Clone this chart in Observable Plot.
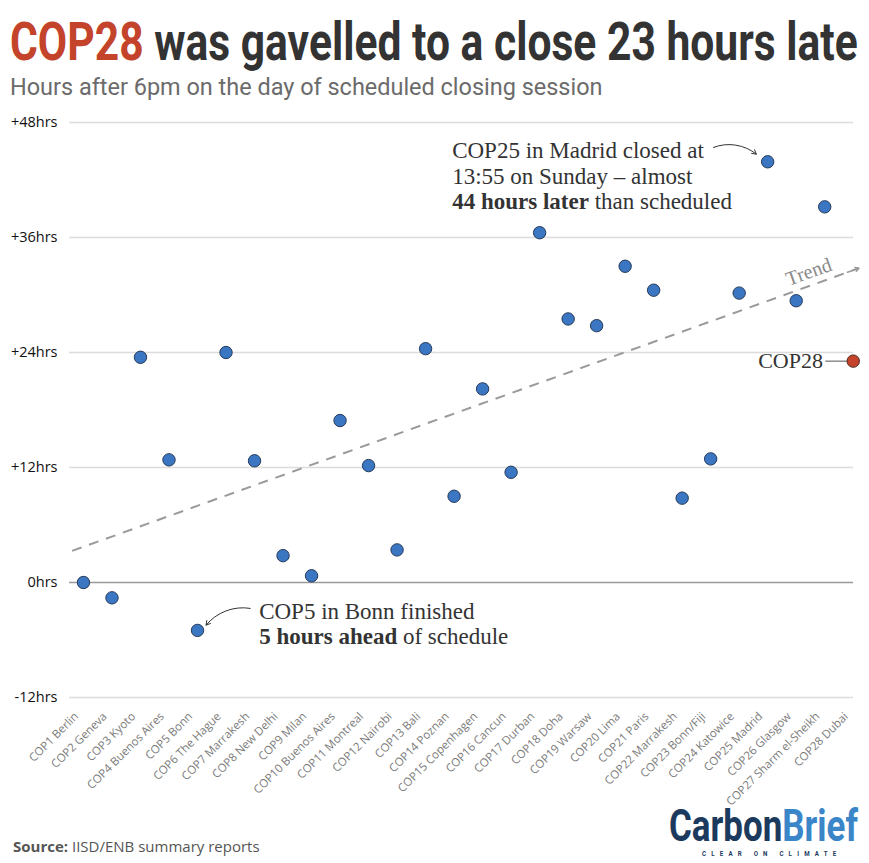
<!DOCTYPE html>
<html><head><meta charset="utf-8">
<script src="https://cdn.jsdelivr.net/npm/d3@7"></script>
<script src="https://cdn.jsdelivr.net/npm/@observablehq/plot@0.6"></script>
<style>
body{margin:0;background:#fff;width:869px;height:863px;position:relative;overflow:hidden;font-family:"Open Sans",sans-serif}
#head{position:absolute;left:0;top:0}
#chart{position:absolute;left:0;top:100px}
#foot{position:absolute;left:0;top:795px}
</style></head><body>
<svg id="head" width="869" height="100">
  <text id="title" x="10" y="60" font-family="Roboto" font-weight="700" font-size="53" fill="#333"><tspan fill="#C4432B">COP28</tspan> was gavelled to a close 23 hours late</text>
  <text id="subtitle" x="10" y="95" font-family="Roboto" font-size="24" fill="#6b6b6b">Hours after 6pm on the day of scheduled closing session</text>
</svg>
<div id="chart"></div>
<svg id="foot" width="869" height="68">
  <text x="13" y="57" font-family="Open Sans" font-size="15" fill="#555"><tspan font-weight="700">Source:</tspan> IISD/ENB summary reports</text>
  <text id="logo" x="669" y="46" font-family="Roboto" font-weight="700" font-size="45"><tspan fill="#1B3A5E">Carbon</tspan><tspan fill="#3A86C8">Brief</tspan><tspan id="tag" font-size="7" dy="15" fill="#1B3A5E">CLEAR ON CLIMATE</tspan></text>
</svg>
<script>
const cops = ["COP1 Berlin","COP2 Geneva","COP3 Kyoto","COP4 Buenos Aires","COP5 Bonn","COP6 The Hague","COP7 Marrakesh","COP8 New Delhi","COP9 Milan","COP10 Buenos Aires","COP11 Montreal","COP12 Nairobi","COP13 Bali","COP14 Poznan","COP15 Copenhagen","COP16 Cancun","COP17 Durban","COP18 Doha","COP19 Warsaw","COP20 Lima","COP21 Paris","COP22 Marrakesh","COP23 Bonn/Fiji","COP24 Katowice","COP25 Madrid","COP26 Glasgow","COP27 Sharm el-Sheikh","COP28 Dubai"];
const hours = [0, -1.6, 23.5, 12.8, -5.0, 24.0, 12.7, 2.8, 0.7, 16.9, 12.2, 3.4, 24.4, 9.0, 20.2, 11.5, 36.5, 27.5, 26.8, 33.0, 30.5, 8.8, 12.9, 30.2, 43.9, 29.4, 39.2, 23.1];
const yTicks = [-12, 0, 12, 24, 36, 48];
const highlight = "COP28 Dubai";
// trend line end points (index, hours)
const trendX = [-0.4, 27.2];
const trendY = [3.3, 32.8];

// horizontally fit header/logo texts to the reference widths
function fit(id, w, n) {
  const el = document.getElementById(id);
  const x = +el.getAttribute("x");
  const l = n ? el.getSubStringLength(0, n) : el.getComputedTextLength();
  const s = w / l;
  el.setAttribute("transform", `translate(${x},0) scale(${s},1) translate(${-x},0)`);
  return s;
}
fit("title", 848);
fit("subtitle", 593);
const ls = fit("logo", 189, 11);
const tag = document.getElementById("tag");
tag.setAttribute("x", 669 + (702 - 669) / ls);
tag.setAttribute("letter-spacing", 5.2 / ls);
tag.setAttribute("font-size", 7 / Math.sqrt(ls));

const data = cops.map((c, i) => ({i, cop: c, h: hours[i]}));
const serif = "Liberation Serif";

const plot = Plot.plot({
  width: 869, height: 700,
  marginTop: 22, marginBottom: 103, marginLeft: 69, marginRight: 16,
  x: {type: "linear", domain: [-0.49, 27.01]},
  y: {domain: [-12, 48]},
  style: {fontFamily: "Open Sans", background: "white", overflow: "visible"},
  marks: [
    Plot.ruleY(yTicks.filter(d => d !== 0), {stroke: "#dcdcdc", strokeWidth: 1.5}),
    Plot.ruleY([0], {stroke: "#9a9a9a", strokeWidth: 1.5}),
    Plot.axisY({ticks: yTicks, tickSize: 0, tickPadding: 12, tickFormat: d => (d > 0 ? "+" : "") + d + "hrs", fontSize: 14.5, fill: "#111", label: null}),
    Plot.axisX({ticks: cops.map((_, i) => i), tickFormat: i => cops[i], tickRotate: -45, tickSize: 0, tickPadding: 15, dx: -7, dy: 2, fontSize: 11.5, fill: "#7a7a7a", label: null}),
    Plot.link([0], {x1: [trendX[0]], y1: [trendY[0]], x2: [trendX[1]], y2: [trendY[1]], stroke: "#9a9a9a", strokeWidth: 2, strokeDasharray: "10,8"}),
    Plot.arrow([0], {x1: [trendX[1] - 0.4], y1: [trendY[1] - 0.4 * (trendY[1] - trendY[0]) / (trendX[1] - trendX[0])], x2: [trendX[1]], y2: [trendY[1]], stroke: "#9a9a9a", strokeWidth: 1.5, headLength: 9}),
    Plot.text(["Trend"], {x: 25.44, y: 32.4, text: d => d, rotate: -19.7, fontFamily: serif, fontSize: 20, fill: "#8a8a8a"}),
    Plot.arrow([0], {x1: [22.1], y1: [45.4], x2: [23.6], y2: [44.7], bend: 30, stroke: "#333", strokeWidth: 1, headLength: 7}),
    Plot.arrow([0], {x1: [5.85], y1: [-2.7], x2: [4.3], y2: [-4.45], bend: -30, stroke: "#333", strokeWidth: 1, headLength: 7}),
    Plot.link([0], {x1: [26.02], y1: [hours[27]], x2: [26.78], y2: [hours[27]], stroke: "#555", strokeWidth: 1}),
    Plot.text(["COP28"], {x: 25.94, y: hours[27], text: d => d, textAnchor: "end", fontFamily: serif, fontSize: 22, fill: "#333"}),
    Plot.dot(data.filter(d => d.cop !== highlight), {x: "i", y: "h", r: 6.2, fill: "#3B76C2", stroke: "#253a5a", strokeWidth: 1}),
    Plot.dot(data.filter(d => d.cop === highlight), {x: "i", y: "h", r: 6.2, fill: "#C4432B", stroke: "#4a2a20", strokeWidth: 1})
  ]
});
document.getElementById("chart").appendChild(plot);

// multi-style annotations positioned through the plot's scales
const sx = plot.scale("x"), sy = plot.scale("y");
const notes = [
  {x: 12.95, y: 44.2, lines: [[["COP25 in Madrid closed at", false]], [["13:55 on Sunday – almost", false]], [["44 hours later", true], [" than scheduled", false]]]},
  {x: 6.18, y: -3.86, lines: [[["COP5 in Bonn finished", false]], [["5 hours ahead", true], [" of schedule", false]]]}
];
const svg = d3.select(plot);
for (const n of notes) {
  const t = svg.append("text").attr("font-family", serif).attr("font-size", 23).attr("fill", "#333").attr("text-anchor", "start");
  n.lines.forEach((line, li) => {
    line.forEach(([s, b], k) => {
      const ts = t.append("tspan").text(s).attr("font-weight", b ? 700 : 400);
      if (k === 0) ts.attr("x", sx.apply(n.x)).attr("y", sy.apply(n.y) + li * 25.5);
    });
  });
}
</script>
</body></html>
